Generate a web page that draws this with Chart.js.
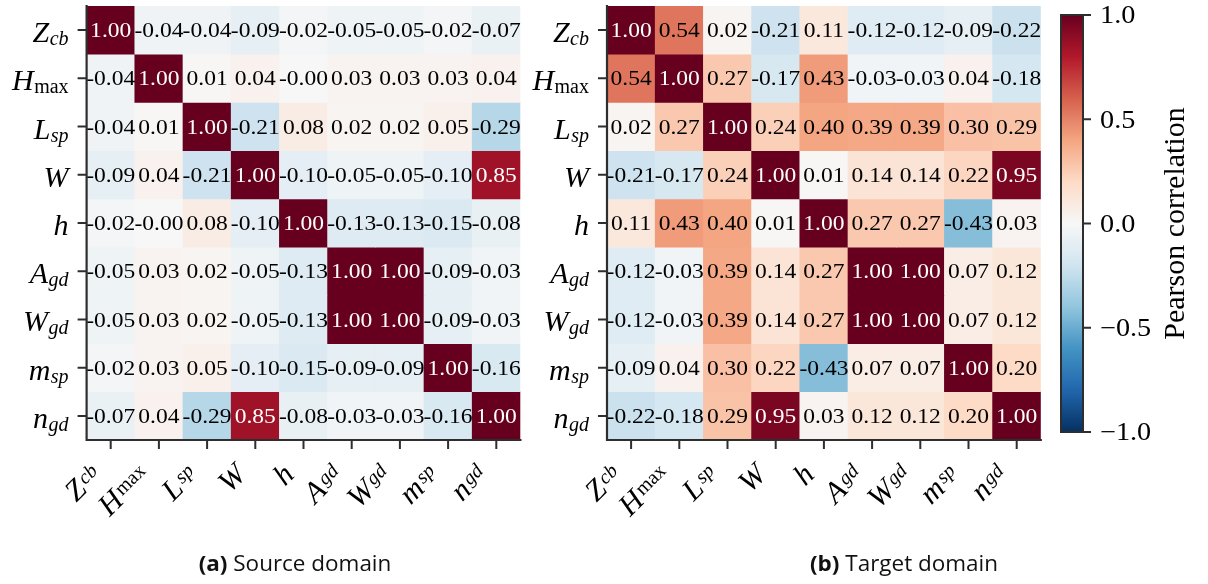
<!DOCTYPE html>
<html>
<head>
<meta charset="utf-8">
<script src="https://cdn.jsdelivr.net/npm/chart.js@4.4.1/dist/chart.umd.min.js"></script>
<style>
  html, body { margin: 0; padding: 0; background: #fff; }
  #fig { position: relative; width: 1208px; height: 584px; overflow: hidden; background: #fff; }
  .panel { position: absolute; top: 0; height: 584px; }
  .panel canvas { display: block; }
  .cap { position: absolute; top: 549px; font-family: "Open Sans", sans-serif; font-size: 21px;
         color: #111; white-space: nowrap; transform: translateX(-50%) scaleX(1.07); }
  .cap b { font-weight: 700; }
</style>
</head>
<body>
<div id="fig">
  <div class="panel" style="left:0;width:560px"><canvas id="src" width="560" height="584"></canvas></div>
  <div class="panel" style="left:522px;width:538px"><canvas id="tgt" width="538" height="584"></canvas></div>
  <div class="panel" style="left:1040px;width:168px"><canvas id="cbar" width="168" height="584"></canvas></div>
  <div class="cap" style="left:295px"><b>(a)</b> Source domain</div>
  <div class="cap" style="left:904px"><b>(b)</b> Target domain</div>
</div>
<script>
// Design variables (row / column order of both matrices)
const variables = ['Z_cb', 'H_max', 'L_sp', 'W', 'h', 'A_gd', 'W_gd', 'm_sp', 'n_gd'];

// Pearson correlation, source domain
const sourceCorr = [
  [ 1.00, -0.04, -0.04, -0.09, -0.02, -0.05, -0.05, -0.02, -0.07],
  [-0.04,  1.00,  0.01,  0.04, -0.00,  0.03,  0.03,  0.03,  0.04],
  [-0.04,  0.01,  1.00, -0.21,  0.08,  0.02,  0.02,  0.05, -0.29],
  [-0.09,  0.04, -0.21,  1.00, -0.10, -0.05, -0.05, -0.10,  0.85],
  [-0.02, -0.00,  0.08, -0.10,  1.00, -0.13, -0.13, -0.15, -0.08],
  [-0.05,  0.03,  0.02, -0.05, -0.13,  1.00,  1.00, -0.09, -0.03],
  [-0.05,  0.03,  0.02, -0.05, -0.13,  1.00,  1.00, -0.09, -0.03],
  [-0.02,  0.03,  0.05, -0.10, -0.15, -0.09, -0.09,  1.00, -0.16],
  [-0.07,  0.04, -0.29,  0.85, -0.08, -0.03, -0.03, -0.16,  1.00]
];

// Pearson correlation, target domain
const targetCorr = [
  [ 1.00,  0.54,  0.02, -0.21,  0.11, -0.12, -0.12, -0.09, -0.22],
  [ 0.54,  1.00,  0.27, -0.17,  0.43, -0.03, -0.03,  0.04, -0.18],
  [ 0.02,  0.27,  1.00,  0.24,  0.40,  0.39,  0.39,  0.30,  0.29],
  [-0.21, -0.17,  0.24,  1.00,  0.01,  0.14,  0.14,  0.22,  0.95],
  [ 0.11,  0.43,  0.40,  0.01,  1.00,  0.27,  0.27, -0.43,  0.03],
  [-0.12, -0.03,  0.39,  0.14,  0.27,  1.00,  1.00,  0.07,  0.12],
  [-0.12, -0.03,  0.39,  0.14,  0.27,  1.00,  1.00,  0.07,  0.12],
  [-0.09,  0.04,  0.30,  0.22, -0.43,  0.07,  0.07,  1.00,  0.20],
  [-0.22, -0.18,  0.29,  0.95,  0.03,  0.12,  0.12,  0.20,  1.00]
];

// Colour bar range and ticks
const colorbarRange = [-1.0, 1.0];
const colorbarTicks = [1.0, 0.5, 0.0, -0.5, -1.0];
const colorbarLabel = 'Pearson correlation';

// Diverging palette, blue (-1) -> white (0) -> red (+1)
const RDBU_R = ['#053061', '#2166ac', '#4393c3', '#92c5de', '#d1e5f0', '#f7f7f7',
                '#fddbc7', '#f4a582', '#d6604d', '#b2182b', '#67001f'];

const SERIF = '"Liberation Serif", "Times New Roman", serif';
const INK = '#2e2e2e';
const TEXT_STRETCH = 1.12;   // horizontal widening of the number glyphs

function hexToRgb(h) {
  return [parseInt(h.slice(1, 3), 16), parseInt(h.slice(3, 5), 16), parseInt(h.slice(5, 7), 16)];
}
const PALETTE = RDBU_R.map(hexToRgb);

function cmap(v) {
  let t = (v - colorbarRange[0]) / (colorbarRange[1] - colorbarRange[0]);
  t = Math.max(0, Math.min(1, t));
  const pos = t * (PALETTE.length - 1);
  const i = Math.min(Math.floor(pos), PALETTE.length - 2);
  const f = pos - i;
  const a = PALETTE[i], b = PALETTE[i + 1];
  const c = a.map((av, k) => Math.round(av + (b[k] - av) * f));
  return `rgb(${c[0]},${c[1]},${c[2]})`;
}

function fmt(v) {
  const neg = v < 0 || Object.is(v, -0);
  return (neg ? '-' : '') + Math.abs(v).toFixed(2);
}

function stretchedText(ctx, s, x, y, sx) {
  ctx.save();
  ctx.translate(x, y);
  ctx.scale(sx, 1);
  ctx.fillText(s, 0, 0);
  ctx.restore();
}

// Subscripts that are operator names are set upright
const uprightSubs = ['max'];
const MAIN_FONT = 'italic 30px ' + SERIF;
function subFont(sub) {
  return (uprightSubs.includes(sub) ? '' : 'italic ') + '20px ' + SERIF;
}

// Lays out a symbol with optional subscript; returns pieces relative to baseline start
function layoutSymbol(ctx, label, subShift, gap) {
  const [main, sub] = label.split('_');
  const pieces = [];
  ctx.font = MAIN_FONT;
  const wMain = ctx.measureText(main).width;
  pieces.push({ text: main, font: MAIN_FONT, x: 0, dy: 0 });
  let width = wMain;
  if (sub) {
    const f = subFont(sub);
    ctx.font = f;
    const wSub = ctx.measureText(sub).width;
    pieces.push({ text: sub, font: f, x: wMain + gap, dy: subShift });
    width = wMain + gap + wSub;
  }
  return { pieces, width };
}

function drawPieces(ctx, pieces, ox, oy) {
  pieces.forEach(p => {
    ctx.font = p.font;
    ctx.fillText(p.text, ox + p.x, oy + p.dy);
  });
}

function heatmapDecor(corr) {
  return {
    id: 'heatmapDecor',
    afterDatasetsDraw(chart) {
      const ctx = chart.ctx;
      const xs = chart.scales.x, ys = chart.scales.y, area = chart.chartArea;
      ctx.save();

      // cell annotations
      ctx.font = '21px ' + SERIF;
      ctx.textAlign = 'center';
      ctx.textBaseline = 'alphabetic';
      corr.forEach((row, i) => {
        const cy = (ys.getPixelForValue(i) + ys.getPixelForValue(i + 1)) / 2;
        row.forEach((v, j) => {
          const cx = xs.getPixelForValue(j);
          ctx.fillStyle = Math.abs(v) > 0.7 ? '#ffffff' : '#000000';
          stretchedText(ctx, fmt(v), cx, cy + 7.1, TEXT_STRETCH);
        });
      });

      // left and bottom spines
      ctx.strokeStyle = INK;
      ctx.lineWidth = 2.2;
      ctx.lineCap = 'square';
      ctx.beginPath();
      ctx.moveTo(area.left, area.top);
      ctx.lineTo(area.left, area.bottom);
      ctx.lineTo(area.right, area.bottom);
      ctx.stroke();

      // tick marks
      ctx.lineWidth = 2;
      ctx.lineCap = 'butt';
      ctx.beginPath();
      variables.forEach((_, k) => {
        const y = (ys.getPixelForValue(k) + ys.getPixelForValue(k + 1)) / 2;
        ctx.moveTo(area.left - 9, y);
        ctx.lineTo(area.left, y);
        const x = xs.getPixelForValue(k);
        ctx.moveTo(x, area.bottom);
        ctx.lineTo(x, area.bottom + 9);
      });
      ctx.stroke();

      // y tick labels (right aligned)
      ctx.fillStyle = '#000';
      ctx.textAlign = 'left';
      variables.forEach((lab, k) => {
        const y = (ys.getPixelForValue(k) + ys.getPixelForValue(k + 1)) / 2;
        const L = layoutSymbol(ctx, lab, 3, 0.5);
        drawPieces(ctx, L.pieces, area.left - 18 - L.width, y + 12);
      });

      // x tick labels, rotated 45 degrees, bbox right edge near the tick
      const c = Math.SQRT1_2;
      const asc = 20, desc = 7;
      variables.forEach((lab, k) => {
        const x = xs.getPixelForValue(k);
        const L = layoutSymbol(ctx, lab, -6, 2);
        const right = x - 3, top = area.bottom + 22;
        const tx = right - c * (L.width + desc);
        const ty = top + c * (L.width + asc);
        ctx.save();
        ctx.translate(tx, ty);
        ctx.rotate(-Math.PI / 4);
        drawPieces(ctx, L.pieces, 0, 0);
        ctx.restore();
      });

      ctx.restore();
    }
  };
}

function heatmapConfig(corr, padding) {
  const datasets = corr.map((row, i) => ({
    label: variables[i],
    data: row.map(() => [i, i + 1]),
    backgroundColor: row.map(cmap),
    borderWidth: 0,
    barPercentage: 1.0,
    categoryPercentage: 1.0,
    grouped: false
  }));
  return {
    type: 'bar',
    data: { labels: variables, datasets },
    options: {
      responsive: false,
      animation: false,
      devicePixelRatio: 1,
      events: [],
      layout: { padding },
      plugins: { legend: { display: false }, tooltip: { enabled: false } },
      scales: {
        x: { type: 'category', display: false, offset: true },
        y: { type: 'linear', display: false, min: 0, max: variables.length, reverse: true }
      }
    },
    plugins: [heatmapDecor(corr)]
  };
}

new Chart(document.getElementById('src'),
  heatmapConfig(sourceCorr, { left: 86.6, top: 6, right: 39.6, bottom: 144 }));
new Chart(document.getElementById('tgt'),
  heatmapConfig(targetCorr, { left: 85, top: 6, right: 19.2, bottom: 144 }));

// Colour bar: one floating bar spanning the full range, filled with the palette gradient
const colorbarDecor = {
  id: 'colorbarDecor',
  afterDatasetsDraw(chart) {
    const ctx = chart.ctx, ys = chart.scales.y, area = chart.chartArea;
    ctx.save();
    ctx.strokeStyle = INK;
    ctx.lineWidth = 2;
    ctx.strokeRect(area.left, area.top, area.right - area.left, area.bottom - area.top);
    ctx.beginPath();
    colorbarTicks.forEach(t => {
      const y = ys.getPixelForValue(t);
      ctx.moveTo(area.right, y);
      ctx.lineTo(area.right + 8, y);
    });
    ctx.stroke();
    ctx.fillStyle = '#000';
    ctx.font = '25px ' + SERIF;
    ctx.textAlign = 'left';
    ctx.textBaseline = 'alphabetic';
    colorbarTicks.forEach(t => {
      const y = ys.getPixelForValue(t);
      const s = (t < 0 ? '\u2212' : '') + Math.abs(t).toFixed(1);
      stretchedText(ctx, s, area.right + 17, y + 8.4, 1.13);
    });
    ctx.font = '30px ' + SERIF;
    ctx.textAlign = 'center';
    ctx.save();
    ctx.translate(134, (area.top + area.bottom) / 2);
    ctx.rotate(-Math.PI / 2);
    ctx.fillText(colorbarLabel, 0, 10);
    ctx.restore();
    ctx.restore();
  }
};

new Chart(document.getElementById('cbar'), {
  type: 'bar',
  data: {
    labels: [colorbarLabel],
    datasets: [{
      data: [colorbarRange],
      borderWidth: 0,
      barPercentage: 1.0,
      categoryPercentage: 1.0,
      backgroundColor(context) {
        const chart = context.chart;
        const a = chart.chartArea;
        if (!a) return 'transparent';
        const g = chart.ctx.createLinearGradient(0, a.bottom, 0, a.top);
        RDBU_R.forEach((col, k) => g.addColorStop(k / (RDBU_R.length - 1), col));
        return g;
      }
    }]
  },
  options: {
    responsive: false,
    animation: false,
    devicePixelRatio: 1,
    events: [],
    layout: { padding: { left: 21, top: 15, right: 125, bottom: 152 } },
    plugins: { legend: { display: false }, tooltip: { enabled: false } },
    scales: {
      x: { type: 'category', display: false, offset: true },
      y: { type: 'linear', display: false, min: colorbarRange[0], max: colorbarRange[1] }
    }
  },
  plugins: [colorbarDecor]
});
</script>
</body>
</html>
